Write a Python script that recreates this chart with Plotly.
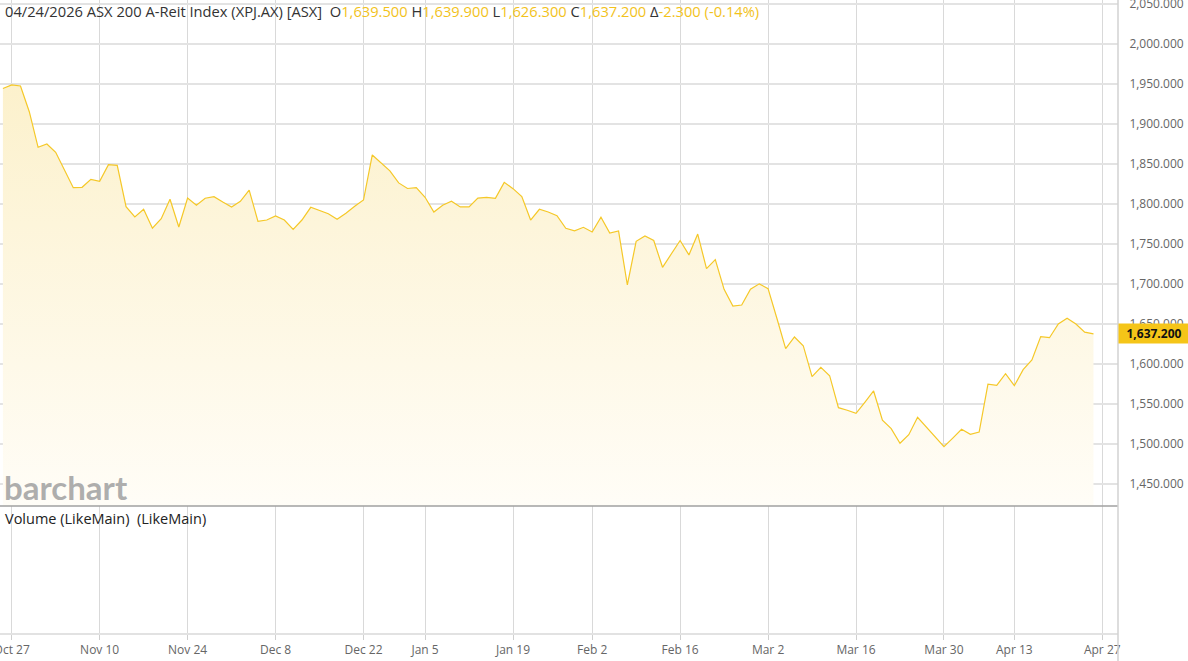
import pandas as pd
import plotly.graph_objects as go

# ---------------- data ----------------
holidays = ["2025-12-25", "2025-12-26", "2026-01-01", "2026-01-26", "2026-04-03", "2026-04-06"]
session_days = pd.bdate_range("2025-10-24", "2026-04-27", freq="C", holidays=holidays)

close = [
    1944.0, 1948.4, 1947.1, 1915.0, 1870.5, 1874.6, 1864.3, 1842.0, 1820.0, 1820.5,
    1830.5, 1828.0, 1848.8, 1848.0, 1796.3, 1783.4, 1793.0, 1769.3, 1781.3, 1805.5,
    1770.9, 1807.0, 1798.0, 1806.8, 1808.8, 1802.0, 1795.9, 1803.0, 1817.0, 1778.0,
    1779.6, 1784.6, 1779.6, 1768.0, 1779.6, 1795.5, 1791.0, 1787.5, 1780.5, 1788.0,
    1796.7, 1804.6, 1860.9, 1851.0, 1841.0, 1826.0, 1819.0, 1820.0, 1808.0, 1789.6,
    1798.0, 1803.0, 1796.0, 1796.0, 1807.0, 1808.0, 1806.7, 1826.7, 1818.8, 1808.8,
    1779.6, 1793.0, 1789.6, 1785.0, 1769.2, 1766.0, 1770.5, 1764.6, 1783.0, 1763.4,
    1766.0, 1698.4, 1753.0, 1759.6, 1754.0, 1720.5, 1737.0, 1754.0, 1736.0, 1762.0,
    1718.8, 1730.0, 1693.0, 1672.0, 1673.4, 1693.0, 1699.8, 1693.8, 1656.8, 1618.8,
    1633.4, 1622.5, 1583.8, 1595.5, 1585.0, 1545.0, 1541.8, 1538.0, 1551.8, 1565.9,
    1529.3, 1518.8, 1500.5, 1511.3, 1533.0, 1520.5, 1508.8, 1496.3, 1507.0, 1518.0,
    1511.8, 1514.6, 1574.3, 1573.0, 1587.5, 1572.5, 1592.5, 1604.6, 1633.8, 1632.5,
    1649.6, 1656.8, 1649.6, 1639.5, 1637.2,
]

tick_dates = ["2025-10-27", "2025-11-10", "2025-11-24", "2025-12-08", "2025-12-22",
              "2026-01-05", "2026-01-19", "2026-02-02", "2026-02-16", "2026-03-02",
              "2026-03-16", "2026-03-30", "2026-04-13", "2026-04-27"]
tick_labels = ["Oct 27", "Nov 10", "Nov 24", "Dec 8", "Dec 22", "Jan 5", "Jan 19",
               "Feb 2", "Feb 16", "Mar 2", "Mar 16", "Mar 30", "Apr 13", "Apr 27"]
y_ticks = [1450, 1500, 1550, 1600, 1650, 1700, 1750, 1800, 1850, 1900, 1950, 2000, 2050]

header_open, header_high, header_low, header_close = 1639.500, 1639.900, 1626.300, 1637.200
header_change, header_pct = -2.300, -0.14
header_date = "04/24/2026"
title = "ASX 200 A-Reit Index (XPJ.AX) [ASX]"

# ---------------- figure ----------------
pos = {d.strftime("%Y-%m-%d"): i for i, d in enumerate(session_days)}
x_vals = list(range(len(close)))
hover_dates = [d.strftime("%m/%d/%Y") for d in session_days[:len(close)]]
tick_pos = [pos[d] for d in tick_dates]

W, H = 1188, 661
L, R, T, B = 0, 70, 0, 28
plot_h = H - T - B
sep = (plot_h - 506) / plot_h  # paper y of pane separator

LINE = "#f5c828"
GOLD = "#f2c21b"
FONT = "Open Sans"

fig = go.Figure()
fig.add_trace(go.Scatter(
    x=x_vals, y=close, mode="lines",
    line=dict(color=LINE, width=1.2),
    fill="tozeroy",
    fillgradient=dict(type="vertical",
                      colorscale=[[0, "rgb(255,253,247)"], [1, "rgb(252,241,204)"]],
                      start=1422, stop=1950),
    text=hover_dates, hovertemplate="%{text}<br>%{y:,.3f}<extra></extra>",
    xaxis="x", yaxis="y", showlegend=False,
))
fig.add_trace(go.Scatter(x=[], y=[], xaxis="x", yaxis="y2", showlegend=False))

x_range = [pos["2025-10-27"] - 11.7 / 8.795, pos["2025-10-27"] + (1118 - 11.7) / 8.795]

fig.update_layout(
    width=W, height=H,
    margin=dict(l=L, r=R, t=T, b=B, pad=0, autoexpand=False),
    paper_bgcolor="white", plot_bgcolor="white",
    font=dict(family=FONT, size=12, color="#666"),
    xaxis=dict(
        type="linear", range=x_range, anchor="y2",
        tickvals=tick_pos, ticktext=tick_labels,
        showgrid=True, gridcolor="#d9d9d9", gridwidth=1,
        ticks="outside", ticklen=5, tickcolor="#cfcfcf",
        showline=True, linecolor="#e2e2e2", linewidth=2,
        zeroline=False, tickfont=dict(size=12, color="#666"),
        ticklabeloverflow="allow", automargin=False,
    ),
    yaxis=dict(
        domain=[sep, 1], side="right",
        range=[2000 - (506 - 43.7) / 0.8, 2000 + 43.7 / 0.8],
        tickvals=y_ticks, tickformat=",.3f",
        showgrid=True, gridcolor="#e3e3e3", gridwidth=1.5,
        ticks="outside", ticklen=8, tickcolor="rgba(0,0,0,0)",
        zeroline=False, showline=False,
        tickfont=dict(size=12, color="#666"),
        ticklabeloverflow="allow", automargin=False,
    ),
    yaxis2=dict(
        domain=[0, sep], range=[0, 1], showticklabels=False,
        showgrid=False, zeroline=False, showline=False,
    ),
    shapes=[
        dict(type="line", xref="paper", yref="paper", x0=0, x1=1, y0=sep, y1=sep,
             line=dict(color="#a0a0a0", width=1.5), layer="above"),
        dict(type="line", xref="paper", yref="paper", x0=1, x1=1, y0=-B / plot_h, y1=1,
             line=dict(color="#d2d2d2", width=1.5), layer="above"),
    ],
)

def sp(txt, color):
    return f"<span style='color:{color}'>{txt}</span>"

header = (
    f"{header_date} {title}&nbsp; O" + sp(f"{header_open:,.3f}", GOLD)
    + " H" + sp(f"{header_high:,.3f}", GOLD)
    + " L" + sp(f"{header_low:,.3f}", GOLD)
    + " C" + sp(f"{header_close:,.3f}", GOLD)
    + " Δ" + sp(f"{header_change:,.3f} ({header_pct:.2f}%)", GOLD)
)

fig.add_annotation(text=header, xref="paper", yref="paper", x=3 / 1118, y=1 - 11 / plot_h,
                   xanchor="left", yanchor="middle", showarrow=False,
                   font=dict(family=FONT, size=14.7, color="#333"))
fig.add_annotation(text="barchart", xref="paper", yref="paper", x=2 / 1118, y=1 - 487 / plot_h,
                   xanchor="left", yanchor="middle", showarrow=False,
                   font=dict(family="Lato", size=33, color="rgba(160,160,160,0.85)", weight="bold"))
fig.add_annotation(text="Volume (LikeMain)&nbsp; (LikeMain)", xref="paper", yref="paper",
                   x=3 / 1118, y=1 - 518 / plot_h, xanchor="left", yanchor="middle",
                   showarrow=False, font=dict(family=FONT, size=14.5, color="#222"))
fig.add_annotation(text=f"<b>{header_close:,.3f}</b>", xref="paper", yref="y",
                   x=1, y=header_close, xanchor="left", yanchor="middle", showarrow=False,
                   bgcolor="#f5c518", width=66, height=15, borderpad=2, align="center",
                   font=dict(family=FONT, size=12, color="#111"))

fig.write_html("out.html", config={"displayModeBar": False},
               post_script="document.body.style.margin='0';document.body.style.overflow='hidden';")
